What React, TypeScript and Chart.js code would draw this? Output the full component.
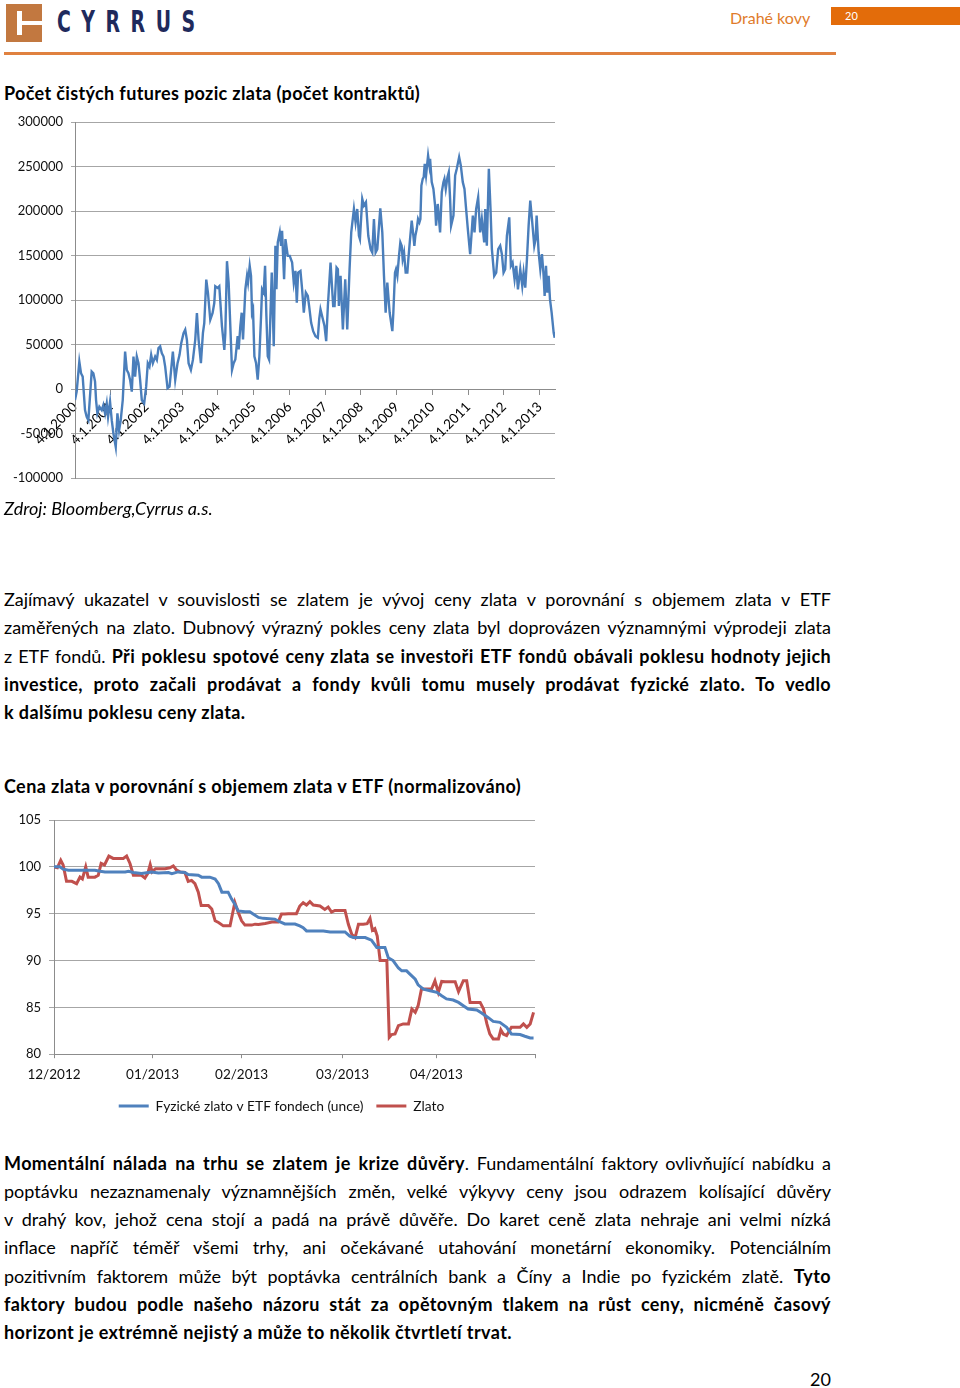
import React, { useEffect, useRef } from "react";
import { Chart, registerables } from "chart.js";
Chart.register(...registerables);

const FONT = "Lato, 'Open Sans', sans-serif";

// ---------- Chart 1: net futures positions (contracts) ----------
const futDates = [
  2000.000, 2000.047, 2000.121, 2000.168, 2000.215, 2000.280, 2000.327, 2000.374, 2000.467, 2000.514, 2000.561, 2000.589, 2000.626, 2000.682, 2000.748, 2000.794, 2000.841, 2000.888, 2000.925, 2000.981,
  2001.028, 2001.075, 2001.140, 2001.187, 2001.234, 2001.280, 2001.336, 2001.402, 2001.449, 2001.495, 2001.542, 2001.589, 2001.636, 2001.682, 2001.729, 2001.776, 2001.822, 2001.869, 2001.935, 2001.991,
  2002.037, 2002.084, 2002.131, 2002.178, 2002.243, 2002.290, 2002.336, 2002.383, 2002.430, 2002.477, 2002.523, 2002.589, 2002.645, 2002.738, 2002.804, 2002.869, 2002.925, 2002.972,
  2003.037, 2003.084, 2003.131, 2003.178, 2003.243, 2003.299, 2003.364, 2003.411, 2003.458, 2003.523, 2003.579, 2003.617, 2003.673, 2003.720, 2003.785, 2003.850, 2003.897, 2003.925, 2003.991,
  2004.037, 2004.112, 2004.178, 2004.206, 2004.252, 2004.299, 2004.393, 2004.439, 2004.486, 2004.551, 2004.579, 2004.626, 2004.664, 2004.701, 2004.766, 2004.813, 2004.841, 2004.888, 2004.925, 2004.953, 2004.981,
  2005.019, 2005.065, 2005.112, 2005.159, 2005.206, 2005.234, 2005.280, 2005.318, 2005.355, 2005.393, 2005.430, 2005.467, 2005.505, 2005.561, 2005.607, 2005.636, 2005.673, 2005.729, 2005.766, 2005.794, 2005.850, 2005.888, 2005.953,
  2006.009, 2006.075, 2006.121, 2006.168, 2006.206, 2006.243, 2006.308, 2006.355, 2006.402, 2006.458, 2006.514, 2006.551, 2006.607, 2006.664, 2006.729, 2006.794, 2006.832, 2006.869, 2006.925, 2006.981,
  2007.028, 2007.075, 2007.150, 2007.224, 2007.262, 2007.318, 2007.355, 2007.383, 2007.430, 2007.495, 2007.561, 2007.617, 2007.682, 2007.729, 2007.804, 2007.850, 2007.897, 2007.944, 2007.972,
  2008.037, 2008.084, 2008.140, 2008.206, 2008.271, 2008.318, 2008.364, 2008.411, 2008.458, 2008.542, 2008.598, 2008.645, 2008.692, 2008.738, 2008.804, 2008.879, 2008.907, 2008.953, 2008.981,
  2009.019, 2009.065, 2009.103, 2009.140, 2009.168, 2009.206, 2009.252, 2009.299, 2009.327, 2009.374, 2009.421, 2009.467, 2009.495, 2009.523, 2009.561, 2009.598, 2009.636, 2009.664, 2009.692, 2009.729, 2009.757, 2009.785, 2009.822, 2009.879, 2009.916, 2009.935, 2009.981,
  2010.028, 2010.075, 2010.103, 2010.150, 2010.215, 2010.262, 2010.308, 2010.336, 2010.374, 2010.421, 2010.458, 2010.495, 2010.523, 2010.589, 2010.636, 2010.682, 2010.748, 2010.794, 2010.850, 2010.897, 2010.935, 2010.991,
  2011.056, 2011.131, 2011.178, 2011.224, 2011.280, 2011.336, 2011.383, 2011.449, 2011.477, 2011.523, 2011.579, 2011.626, 2011.664, 2011.729, 2011.785, 2011.841, 2011.897, 2011.944, 2011.991,
  2012.037, 2012.084, 2012.150, 2012.196, 2012.243, 2012.299, 2012.346, 2012.393, 2012.458, 2012.514, 2012.551, 2012.598, 2012.645, 2012.692, 2012.738, 2012.785, 2012.850, 2012.888, 2012.916, 2012.972,
  2013.019, 2013.065, 2013.112, 2013.140, 2013.178, 2013.215, 2013.252, 2013.290, 2013.336, 2013.393, 2013.421,
];
const futValues = [
  -12400, -3000, 30800, 17700, 13900, -23700, -31200, -35000, 19600, 17700, 8300, -12400, -27400, -19900, -23700, -18000, -27400, -16200, -31200, -14300,
  -35000, -50000, -65000, -27400, -46200, -35000, -12400, 42100, 21400, 17700, 10200, -3000, 36500, 13900, 36500, 29000, 10200, -12400, -16200, 2600,
  29000, 25200, 38400, 29000, 36500, 32700, 45900, 47800, 40200, 36500, 25200, 800, 2600, 42100, 10200, 29000, 38400, 51500,
  62800, 66600, 55300, 29000, 21400, 32700, 55300, 85400, 55300, 29000, 62800, 74100, 123000, 107900, 77800, 85400, 96600, 115400, 113600,
  115400, 70300, 44000, 62800, 143600, 119200, 21400, 29000, 33100, 59400, 44400, 70700, 85700, 55600, 112000, 127100, 119600, 138400, 127100, 85700, 89500,
  36800, 29300, 10500, 36800, 82000, 112000, 108300, 138400, 82000, 36800, 33100, 82000, 130800, 48100, 160900, 112000, 164700, 176000, 160900, 177800, 123300, 168400, 149600,
  149600, 142100, 119600, 132700, 97000, 130800, 132700, 112000, 85700, 108300, 104500, 93200, 74400, 65000, 59400, 57500, 78200, 89500, 80100, 70700,
  53800, 93200, 142100, 93200, 93200, 136500, 134600, 93200, 127100, 66900, 123300, 66900, 134600, 176000, 202300, 187200, 202300, 172200, 168400,
  213600, 206000, 209800, 172200, 157200, 153400, 191000, 153400, 157200, 203000, 176000, 127100, 85700, 119600, 85700, 65000, 85700, 130800, 134600,
  127100, 149600, 164700, 160900, 145900, 153400, 130800, 130800, 145900, 168400, 189100, 172200, 160900, 172200, 179700, 191000, 187200, 191000, 228600, 236100, 238000, 253000, 239900, 262400, 251200, 258700, 232400,
  224800, 206000, 183500, 207900, 176000, 221100, 232400, 236100, 224800, 238000, 243600, 213600, 183500, 194800, 239900, 247400, 260600, 251200, 232400, 224800, 206000, 179700,
  151500, 194800, 176000, 202300, 215400, 176000, 191000, 164700, 202300, 160900, 247400, 202300, 157200, 127100, 130800, 157200, 160900, 151500, 130800,
  134600, 172200, 192900, 138400, 142100, 123300, 138400, 112000, 134600, 115800, 130800, 113900, 145900, 183500, 211700, 191000, 160900, 168400, 194800, 153400,
  134600, 151500, 127100, 104500, 138400, 108300, 127100, 100800, 85700, 63200, 57500,
];
const futYearTicks = [2000, 2001, 2002, 2003, 2004, 2005, 2006, 2007, 2008, 2009, 2010, 2011, 2012, 2013];
const futTickPrefix = "4.1.";

// ---------- Chart 2: gold price vs ETF gold holdings (normalised) ----------
const etfDays = [0, 1.2, 1.9, 3.0, 8.5, 9.6, 10.6, 14.8, 15.5, 16.5, 18.2, 20.3, 21.7, 23.8, 24.5, 25.8, 27.2, 27.9, 30.0, 30.7, 32.4, 33.5, 34.2, 34.9, 36.2, 36.9, 37.6, 38.3, 39.7, 40.7, 41.4, 42.5, 43.5, 45.9, 46.9, 48.0, 50.1, 51.1, 51.8, 52.5, 56.0, 57.4, 60.5, 61.5, 62.2, 64.7, 66.0, 67.1, 68.8, 69.5, 70.5, 71.6, 72.3, 73.3, 74.0, 75.1, 75.7, 76.8, 78.2, 79.6, 80.6, 81.6, 83.0, 84.1, 85.1, 86.1, 87.9, 88.9, 90.3, 91.3, 92.7, 94.1, 95.1, 96.9, 97.9, 99.0, 99.7];
const etfValues = [100, 100, 99.75, 99.64, 99.64, 99.53, 99.46, 99.46, 99.53, 99.39, 99.28, 99.46, 99.35, 99.39, 99.28, 99.46, 99.39, 99.17, 99.1, 98.9, 98.9, 98.7, 98.2, 97.3, 97.3, 96.58, 96.0, 95.3, 95.2, 95.2, 94.96, 94.6, 94.5, 94.42, 94.14, 93.9, 93.9, 93.7, 93.51, 93.16, 93.16, 93.05, 93.05, 92.6, 92.45, 92.45, 92.17, 91.4, 91.4, 90.3, 90.0, 89.2, 88.9, 88.9, 88.55, 88.0, 87.4, 86.95, 86.77, 86.6, 86.24, 85.9, 85.78, 85.53, 85.18, 84.82, 84.72, 84.4, 83.9, 83.5, 83.4, 82.87, 82.16, 82.1, 81.92, 81.74, 81.74];
const goldDays = [0, 0.7, 1.4, 1.9, 2.6, 3.7, 4.7, 5.4, 5.9, 6.6, 7.1, 8.5, 9.2, 9.8, 10.5, 11.4, 12.3, 14.4, 15.1, 15.8, 16.5, 18.2, 18.9, 19.5, 20.0, 20.4, 21.1, 23.1, 24.1, 24.8, 25.5, 26.2, 27.2, 27.9, 28.6, 29.3, 30.0, 30.6, 32.1, 32.8, 33.5, 34.2, 35.2, 36.6, 37.6, 38.3, 39.0, 39.7, 41.1, 41.8, 42.5, 43.9, 45.3, 46.6, 47.3, 48.0, 48.7, 50.4, 51.1, 51.8, 52.5, 53.2, 53.9, 55.3, 56.3, 57.0, 57.7, 58.4, 60.5, 61.2, 61.9, 62.6, 63.3, 64.3, 65.1, 65.7, 66.2, 66.7, 67.2, 67.8, 69.2, 69.7, 70.2, 70.9, 71.6, 72.6, 73.7, 74.4, 75.1, 75.7, 76.4, 78.5, 79.2, 79.9, 80.6, 81.3, 83.4, 84.1, 85.1, 85.8, 86.5, 88.6, 89.3, 90.0, 90.6, 91.3, 92.4, 92.9, 93.4, 94.1, 95.1, 96.9, 97.6, 98.3, 99.0, 99.7];
const goldValues = [100.0, 99.9, 100.7, 100.2, 98.45, 98.45, 98.2, 98.9, 98.7, 100.0, 98.9, 98.9, 99.1, 100.36, 100.2, 101.15, 100.9, 100.9, 101.15, 100.36, 99.1, 99.1, 98.8, 99.3, 100.25, 99.46, 99.8, 99.8, 99.9, 100.1, 99.64, 99.46, 99.4, 98.45, 98.55, 98.2, 97.3, 95.86, 95.86, 95.5, 94.24, 94.06, 93.7, 93.7, 96.2, 95.14, 94.24, 93.78, 93.78, 93.88, 93.85, 93.96, 94.1, 94.1, 94.96, 94.96, 95.0, 95.0, 95.82, 96.17, 95.92, 96.28, 95.92, 95.82, 95.46, 95.71, 95.18, 95.35, 95.35, 93.87, 92.8, 92.45, 93.87, 93.87, 93.94, 94.5, 93.23, 93.4, 92.62, 90.0, 90.0, 81.8, 82.1, 82.16, 83.05, 83.23, 83.23, 84.82, 84.47, 85.18, 86.95, 86.95, 87.84, 86.6, 87.77, 87.73, 87.73, 86.67, 87.84, 87.84, 85.53, 85.53, 84.82, 83.23, 82.16, 81.63, 81.63, 82.59, 82.16, 81.99, 82.87, 82.87, 83.23, 82.87, 83.23, 84.47];
const monthTickDays = [0, 20.5, 39, 60, 79.5, 100];
const monthTickLabels = ["12/2012", "01/2013", "02/2013", "03/2013", "04/2013", ""];
const seriesNames = ["Fyzické zlato v ETF fondech (unce)", "Zlato"];

// ---------- texts ----------
type Seg = { t: string; b?: boolean };
const para1: Seg[][] = [
  [{ t: "Zajímavý ukazatel v souvislosti se zlatem je vývoj ceny zlata v porovnání s objemem zlata v ETF" }],
  [{ t: "zaměřených na zlato. Dubnový výrazný pokles ceny zlata byl doprovázen významnými výprodeji zlata" }],
  [{ t: "z ETF fondů. " }, { t: "Při poklesu spotové ceny zlata se investoři ETF fondů obávali poklesu hodnoty jejich", b: true }],
  [{ t: "investice, proto začali prodávat a fondy kvůli tomu musely prodávat fyzické zlato. To vedlo", b: true }],
  [{ t: "k dalšímu poklesu ceny zlata.", b: true }],
];
const para2: Seg[][] = [
  [{ t: "Momentální nálada na trhu se zlatem je krize důvěry", b: true }, { t: ". Fundamentální faktory ovlivňující nabídku a" }],
  [{ t: "poptávku nezaznamenaly významnějších změn, velké výkyvy ceny jsou odrazem kolísající důvěry" }],
  [{ t: "v drahý kov, jehož cena stojí a padá na právě důvěře. Do karet ceně zlata nehraje ani velmi nízká" }],
  [{ t: "inflace napříč téměř všemi trhy, ani očekávané utahování monetární ekonomiky. Potenciálním" }],
  [{ t: "pozitivním faktorem může být poptávka centrálních bank a Číny a Indie po fyzickém zlatě. " }, { t: "Tyto", b: true }],
  [{ t: "faktory budou podle našeho názoru stát za opětovným tlakem na růst ceny, nicméně časový", b: true }],
  [{ t: "horizont je extrémně nejistý a může to několik čtvrtletí trvat.", b: true }],
];

function Paragraph({ lines, top, lh }: { lines: Seg[][]; top: number; lh: number }) {
  return (
    <div style={{ position: "absolute", left: 4, top, width: 827, fontSize: 18, lineHeight: lh + "px" }}>
      {lines.map((ln, k) => (
        <div
          key={k}
          style={{
            height: lh,
            whiteSpace: "nowrap",
            textAlign: "justify",
            textAlignLast: k === lines.length - 1 ? "left" : "justify",
          }}
        >
          {ln.map((s, j) => (
            <span key={j} style={{ fontWeight: s.b ? 700 : 400, letterSpacing: s.b ? 0.4 : 0 }}>
              {s.t}
            </span>
          ))}
        </div>
      ))}
    </div>
  );
}

function FuturesChart() {
  const ref = useRef<HTMLCanvasElement>(null);
  useEffect(() => {
    const ch = new Chart(ref.current!, {
      type: "line",
      data: {
        datasets: [
          {
            data: futDates.map((d, i) => ({ x: d, y: futValues[i] })),
            borderColor: "#4a7ebb",
            borderWidth: 2.4,
            pointRadius: 0,
            tension: 0,
          },
        ],
      },
      options: {
        animation: false,
        responsive: false,
        layout: { padding: { top: 22, bottom: 22, left: 0, right: 10 } },
        plugins: { legend: { display: false }, tooltip: { enabled: false } },
        scales: {
          x: {
            type: "linear",
            min: 2000,
            max: 2013.43,
            position: { y: 0 } as any,
            afterBuildTicks: (s: any) => {
              s.ticks = futYearTicks.map((v) => ({ value: v }));
            },
            ticks: {
              autoSkip: false,
              minRotation: 45,
              maxRotation: 45,
              padding: 5,
              color: "#000",
              font: { family: FONT, size: 13.5 },
              callback: (v: any) => futTickPrefix + v,
            },
            grid: { drawOnChartArea: false, drawTicks: true, tickLength: 5, color: "#8c8c8c" },
            border: { display: true, color: "#8c8c8c" },
          },
          y: {
            min: -100000,
            max: 300000,
            afterFit: (s: any) => {
              s.width = 75;
            },
            ticks: {
              stepSize: 50000,
              padding: 8,
              color: "#111",
              font: { family: FONT, size: 13 },
              callback: (v: any) => String(v),
            },
            grid: { color: "#a6a6a6", tickLength: 4 },
            border: { color: "#8c8c8c" },
          },
        },
      },
    });
    return () => ch.destroy();
  }, []);
  return <canvas ref={ref} width={565} height={400} style={{ position: "absolute", left: 0, top: 100 }} />;
}

function EtfChart() {
  const ref = useRef<HTMLCanvasElement>(null);
  useEffect(() => {
    const ch = new Chart(ref.current!, {
      type: "line",
      data: {
        datasets: [
          {
            label: seriesNames[0],
            data: etfDays.map((d, i) => ({ x: d, y: etfValues[i] })),
            borderColor: "#4f81bd",
            backgroundColor: "#4f81bd",
            borderWidth: 3,
            pointRadius: 0,
            tension: 0,
          },
          {
            label: seriesNames[1],
            data: goldDays.map((d, i) => ({ x: d, y: goldValues[i] })),
            borderColor: "#c0504d",
            backgroundColor: "#c0504d",
            borderWidth: 3,
            pointRadius: 0,
            tension: 0,
          },
        ],
      },
      options: {
        animation: false,
        responsive: false,
        layout: { padding: { top: 20, bottom: 0, left: 0, right: 0 } },
        plugins: {
          tooltip: { enabled: false },
          legend: {
            position: "bottom",
            labels: {
              usePointStyle: true,
              pointStyle: "line",
              pointStyleWidth: 30,
              boxHeight: 13,
              padding: 13,
              color: "#111",
              font: { family: FONT, size: 13.8 },
            },
          },
        },
        scales: {
          x: {
            type: "linear",
            min: 0,
            max: 100,
            afterBuildTicks: (s: any) => {
              s.ticks = monthTickDays.map((v) => ({ value: v }));
            },
            afterFit: (s: any) => {
              s.height = 32;
            },
            ticks: {
              autoSkip: false,
              minRotation: 0,
              maxRotation: 0,
              padding: 8,
              color: "#111",
              font: { family: FONT, size: 13.5 },
              callback: (_v: any, i: number) => monthTickLabels[i],
            },
            grid: { drawOnChartArea: false, tickLength: 4, color: "#8c8c8c" },
            border: { color: "#8c8c8c" },
          },
          y: {
            min: 80,
            max: 105,
            afterFit: (s: any) => {
              s.width = 54;
            },
            ticks: { stepSize: 5, padding: 8, color: "#111", font: { family: FONT, size: 13 } },
            grid: { color: "#a6a6a6", tickLength: 5 },
            border: { color: "#8c8c8c" },
          },
          yRight: {
            position: "right",
            display: true,
            min: 80,
            max: 105,
            afterFit: (s: any) => {
              s.width = 28;
            },
            ticks: { display: false },
            grid: { display: false, drawTicks: false },
            border: { display: false },
          },
        },
      },
    });
    return () => ch.destroy();
  }, []);
  return <canvas ref={ref} width={563} height={323} style={{ position: "absolute", left: 0, top: 800 }} />;
}

export default function App() {
  return (
    <div style={{ position: "relative", width: 960, height: 1388, fontFamily: FONT, color: "#000", overflow: "hidden", background: "#fff" }}>
      <style>{`body{margin:0}`}</style>
      {/* header */}
      <div style={{ position: "absolute", left: 6, top: 4, width: 36, height: 38, background: "#c27840" }}>
        <div style={{ position: "absolute", left: 11, top: 7, width: 5, height: 24, background: "#fff" }} />
        <div style={{ position: "absolute", left: 16, top: 17, width: 20, height: 4, background: "#fff" }} />
      </div>
      <div
        style={{
          position: "absolute",
          left: 57,
          top: 4,
          fontFamily: "'Liberation Sans Narrow', 'DejaVu Sans Condensed', sans-serif",
          fontWeight: 700,
          fontSize: 30,
          letterSpacing: 15,
          color: "#1f2a5c",
          transform: "scaleX(0.7)",
          transformOrigin: "left top",
          whiteSpace: "nowrap",
        }}
      >
        CYRRUS
      </div>
      <div style={{ position: "absolute", left: 730, top: 8, fontSize: 16, color: "#e07b2a", whiteSpace: "nowrap" }}>Drahé kovy</div>
      <div style={{ position: "absolute", left: 831, top: 7, width: 129, height: 18, background: "#e36c0a" }}>
        <span style={{ position: "absolute", left: 14, top: 2, fontSize: 11, color: "#fff" }}>20</span>
      </div>
      <div style={{ position: "absolute", left: 4, top: 52, width: 832, height: 3, background: "#e0813f" }} />

      {/* chart 1 */}
      <div style={{ position: "absolute", left: 4, top: 82, fontSize: 18, fontWeight: 700, letterSpacing: 0.35, whiteSpace: "nowrap" }}>
        Počet čistých futures pozic zlata (počet kontraktů)
      </div>
      <FuturesChart />
      <div style={{ position: "absolute", left: 4, top: 497, fontSize: 18, fontStyle: "italic", whiteSpace: "nowrap" }}>
        Zdroj: Bloomberg,Cyrrus a.s.
      </div>

      <Paragraph lines={para1} top={585} lh={28.25} />

      {/* chart 2 */}
      <div style={{ position: "absolute", left: 4, top: 775, fontSize: 18, fontWeight: 700, letterSpacing: 0.4, whiteSpace: "nowrap" }}>
        Cena zlata v porovnání s objemem zlata v ETF (normalizováno)
      </div>
      <EtfChart />

      <Paragraph lines={para2} top={1149} lh={28.17} />

      <div style={{ position: "absolute", left: 780, top: 1368, width: 51, textAlign: "right", fontSize: 18 }}>20</div>
    </div>
  );
}
